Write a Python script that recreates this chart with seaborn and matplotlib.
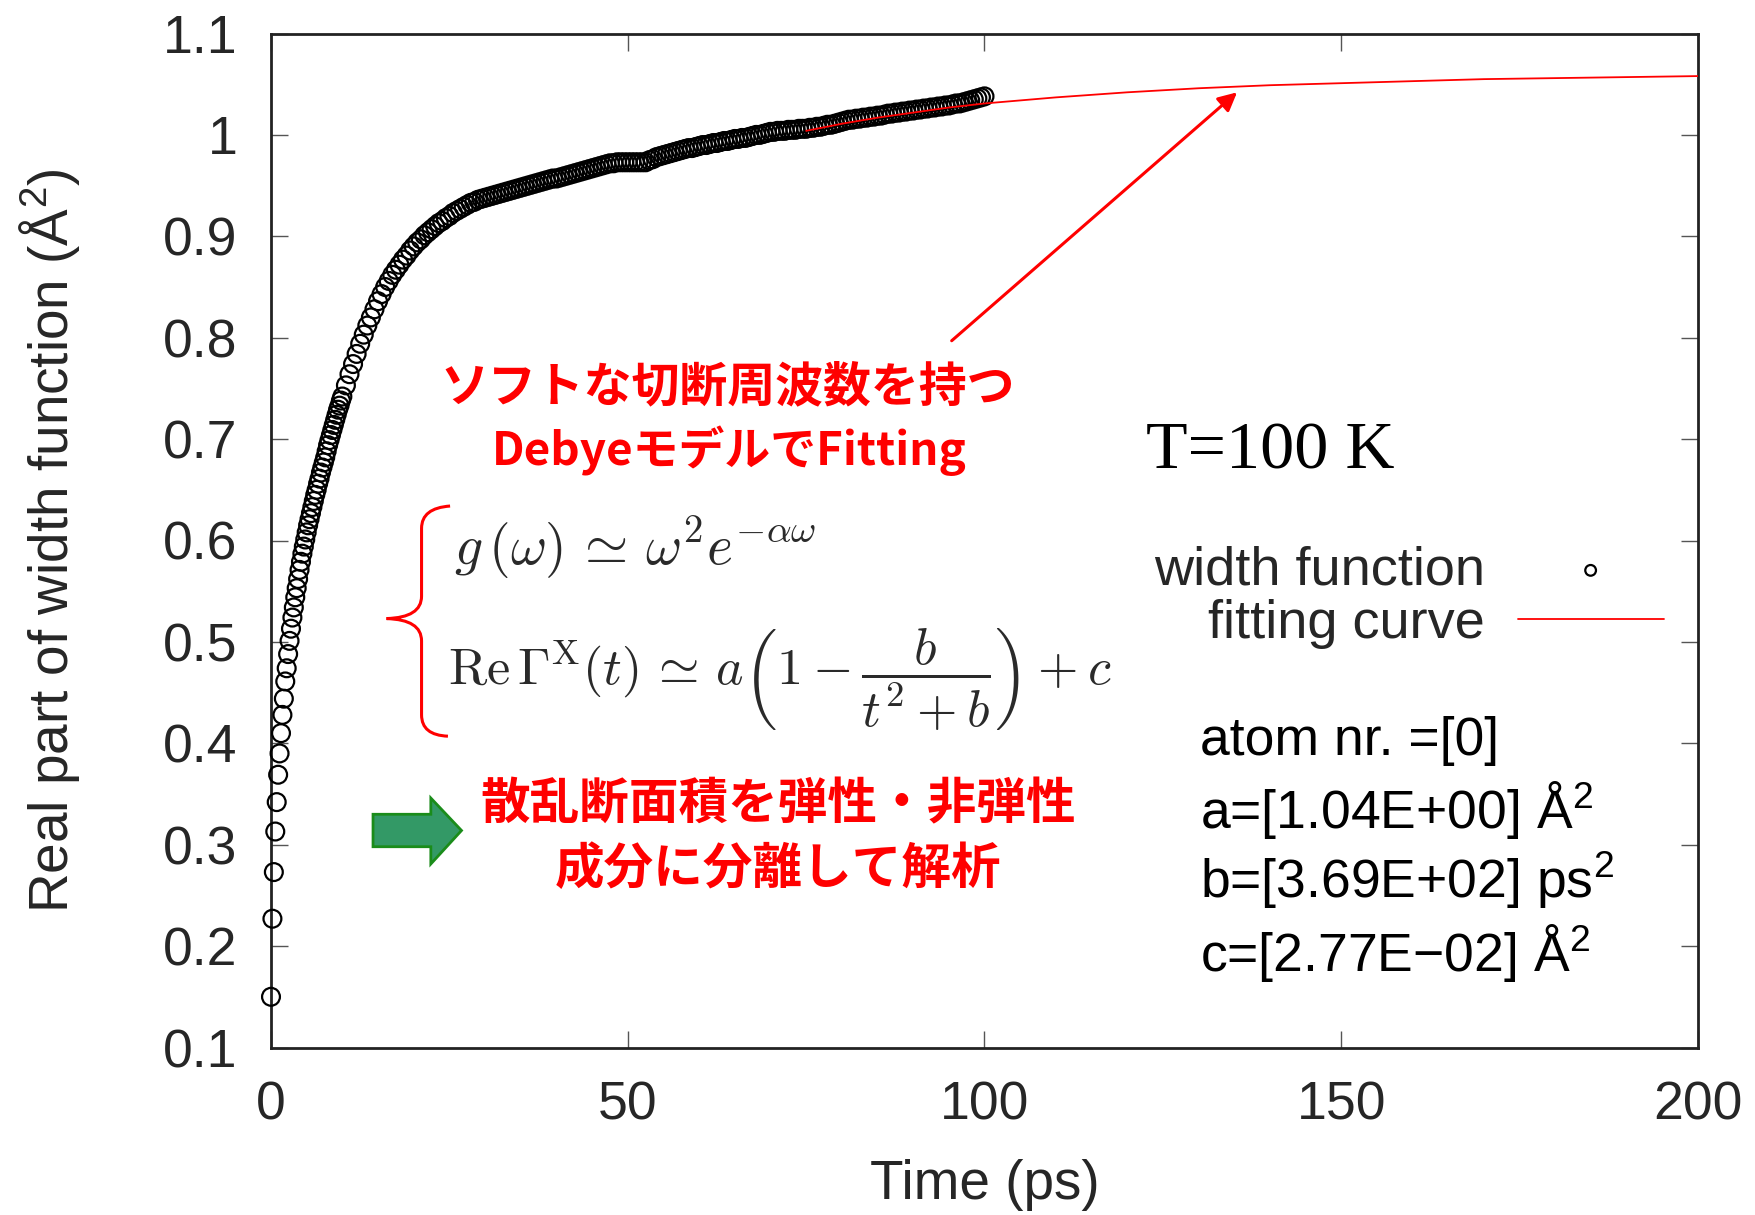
import numpy as np
import pandas as pd
import seaborn as sns
import matplotlib
matplotlib.use("Agg")
import matplotlib.pyplot as plt
from matplotlib.path import Path
from matplotlib.patches import PathPatch, Polygon

# ---------------- data ----------------
time_early = [0.0, 0.2, 0.4, 0.6, 0.8, 1.0, 1.2, 1.4, 1.6, 1.8,
              2.0, 2.2, 2.4, 2.6, 2.8, 3.0, 3.2, 3.4, 3.6, 3.8,
              4.0, 4.2, 4.4, 4.6, 4.8, 5.0, 5.2, 5.4, 5.6, 5.8,
              6.0, 6.2, 6.4, 6.6, 6.8, 7.0, 7.2, 7.4, 7.6, 7.8,
              8.0, 8.2, 8.4, 8.6, 8.8, 9.0, 9.2, 9.4, 9.6, 9.8, 10.0]
width_early = [0.150, 0.227, 0.273, 0.313, 0.342, 0.369, 0.390, 0.410, 0.428, 0.444,
               0.461, 0.474, 0.488, 0.501, 0.513, 0.524, 0.534, 0.544, 0.553, 0.562,
               0.571, 0.579, 0.587, 0.594, 0.601, 0.608, 0.615, 0.621, 0.627, 0.633,
               0.639, 0.645, 0.650, 0.656, 0.661, 0.667, 0.672, 0.677, 0.682, 0.688,
               0.694, 0.699, 0.704, 0.709, 0.714, 0.719, 0.724, 0.729, 0.733, 0.738, 0.742]

time_late = list(np.round(np.arange(10.5, 100.01, 0.5), 1))
width_late = [
    0.753, 0.764, 0.774, 0.784, 0.794, 0.803, 0.812, 0.820, 0.828, 0.836,   # 10.5-15
    0.843, 0.850, 0.856, 0.862, 0.867, 0.872, 0.877, 0.881, 0.886, 0.890,   # 15.5-20
    0.894, 0.897, 0.901, 0.904, 0.907, 0.910, 0.913, 0.915, 0.918, 0.920,   # 20.5-25
    0.923, 0.925, 0.927, 0.929, 0.931, 0.933, 0.934, 0.936, 0.937, 0.938,   # 25.5-30
    0.939, 0.940, 0.941, 0.942, 0.943, 0.944, 0.945, 0.946, 0.947, 0.948,   # 30.5-35
    0.949, 0.950, 0.951, 0.952, 0.953, 0.954, 0.955, 0.956, 0.957, 0.957,   # 35.5-40
    0.958, 0.959, 0.960, 0.961, 0.962, 0.963, 0.964, 0.965, 0.966, 0.967,   # 40.5-45
    0.968, 0.969, 0.970, 0.971, 0.972, 0.972, 0.973, 0.973, 0.973, 0.973,   # 45.5-50
    0.973, 0.973, 0.973, 0.973, 0.973, 0.975, 0.976, 0.978, 0.979, 0.980,   # 50.5-55
    0.981, 0.982, 0.983, 0.984, 0.985, 0.986, 0.987, 0.987, 0.988, 0.989,   # 55.5-60
    0.990, 0.990, 0.991, 0.992, 0.992, 0.993, 0.994, 0.994, 0.995, 0.996,   # 60.5-65
    0.996, 0.997, 0.997, 0.998, 0.999, 1.000, 1.000, 1.001, 1.002, 1.003,   # 65.5-70
    1.003, 1.004, 1.004, 1.004, 1.005, 1.005, 1.005, 1.006, 1.006, 1.006,   # 70.5-75
    1.007, 1.007, 1.008, 1.008, 1.009, 1.010, 1.010, 1.011, 1.012, 1.013,   # 75.5-80
    1.014, 1.015, 1.015, 1.016, 1.016, 1.017, 1.017, 1.018, 1.018, 1.019,   # 80.5-85
    1.019, 1.020, 1.021, 1.021, 1.022, 1.022, 1.023, 1.023, 1.024, 1.024,   # 85.5-90
    1.025, 1.025, 1.026, 1.026, 1.027, 1.027, 1.028, 1.028, 1.029, 1.029,   # 90.5-95
    1.030, 1.031, 1.031, 1.032, 1.033, 1.034, 1.035, 1.036, 1.037, 1.038,   # 95.5-100
]

fit_time = [75, 80, 85, 90, 95, 100, 110, 120, 130, 140, 150, 160, 170, 180, 190, 200]
fit_value = [1.004, 1.011, 1.017, 1.022, 1.027, 1.031, 1.037, 1.042, 1.046,
             1.049, 1.051, 1.053, 1.055, 1.056, 1.057, 1.058]

x_ticks = [0, 50, 100, 150, 200]
y_ticks = [0.1, 0.2, 0.3, 0.4, 0.5, 0.6, 0.7, 0.8, 0.9, 1.0, 1.1]
y_tick_labels = ["0.1", "0.2", "0.3", "0.4", "0.5", "0.6", "0.7", "0.8", "0.9", "1", "1.1"]

param_lines = ["atom nr. =[0]",
               "a=[1.04E+00] Å$^{2}$",
               "b=[3.69E+02] ps$^{2}$",
               "c=[2.77E\u221202] Å$^{2}$"]

# ---------------- style ----------------
sns.set_theme(style="white")
plt.rcParams["font.family"] = ["Liberation Sans", "Noto Sans CJK JP", "DejaVu Sans"]
plt.rcParams["mathtext.fontset"] = "custom"
plt.rcParams["mathtext.rm"] = "Liberation Sans"
plt.rcParams["mathtext.it"] = "Liberation Sans:italic"
plt.rcParams["mathtext.bf"] = "Liberation Sans:bold"

df_data = pd.DataFrame({"time": time_early + time_late,
                        "width": width_early + width_late})
df_fit = pd.DataFrame({"time": fit_time, "value": fit_value})

fig = plt.figure(figsize=(17.55, 12.15), dpi=100)
ax = fig.add_axes([271 / 1755, 1 - 1047.5 / 1215, 1427 / 1755, 1014 / 1215])

sns.scatterplot(data=df_data, x="time", y="width", ax=ax, marker="o", s=165,
                facecolors="none", edgecolor="black", linewidth=1.6,
                label="width function", zorder=3, clip_on=False)
sns.lineplot(data=df_fit, x="time", y="value", ax=ax, color="#ff0000",
             linewidth=1.3, label="fitting curve", zorder=4)

ax.set_xlim(0, 200)
ax.set_ylim(0.1, 1.1)
ax.set_xticks(x_ticks)
ax.set_xticklabels([str(v) for v in x_ticks])
ax.set_yticks(y_ticks)
ax.set_yticklabels(y_tick_labels)
ax.tick_params(axis="both", which="major", direction="in", length=12, width=1.0,
               color="#555555", labelsize=38.5, top=True, right=True,
               bottom=True, left=True)
ax.tick_params(axis="x", pad=24)
ax.tick_params(axis="y", pad=24)
for sp in ax.spines.values():
    sp.set_linewidth(2.0)
    sp.set_color("#222222")

ax.set_xlabel("Time (ps)", fontsize=39.5, labelpad=20)
ax.set_ylabel("Real part of width function (Å$^{2}$)", fontsize=39.5, labelpad=58)

# legend (gnuplot style: text then sample)
leg = ax.legend(loc="upper right", bbox_to_anchor=(0.976, 0.495), frameon=False,
                markerfirst=False, fontsize=39, handlelength=2.7, handletextpad=0.6,
                labelspacing=0.06, borderpad=0, borderaxespad=0, markerscale=0.6)

# parameters block
param_y = [0.388, 0.316, 0.247, 0.175]
for txt, yy in zip(param_lines, param_y):
    ax.text(130.2, yy, txt, fontsize=38.5, ha="left", va="baseline", color="black")

# temperature
ax.text(140.1, 0.687, "T=100 K", fontsize=49, family=["Liberation Serif"],
        ha="center", va="center", color="black")

# red Japanese annotation
jp = ["Noto Sans CJK JP", "DejaVu Sans"]
ax.text(64.0, 0.752, "ソフトな切断周波数を持つ", fontsize=34.5, family=jp,
        weight="bold", color="#ff0000", ha="center", va="center")
ax.text(64.2, 0.689, "DebyeモデルでFitting", fontsize=33, family=jp,
        weight="bold", color="#ff0000", ha="center", va="center")
ax.text(71.1, 0.339, "散乱断面積を弾性・非弾性", fontsize=35.7, family=jp,
        weight="bold", color="#ff0000", ha="center", va="center")
ax.text(71.1, 0.276, "成分に分離して解析", fontsize=35.7, family=jp,
        weight="bold", color="#ff0000", ha="center", va="center")

# red arrow pointing to the fitting curve
ax.annotate("", xy=(135.4, 1.042), xytext=(95.4, 0.797),
            arrowprops=dict(arrowstyle="-|>", color="#ff0000", lw=2.2,
                            mutation_scale=28, shrinkA=0, shrinkB=0))

# formulas
ax.text(25.6, 0.592, r"$g\,(\omega)\,\simeq\,\omega^{2}e^{-\alpha\omega}$",
        fontsize=40, math_fontfamily="cm", color="#2a2a2a", ha="left", va="center")
ax.text(24.8, 0.462,
        r"$\mathrm{Re}\,\Gamma^{\mathrm{X}}(t)\,\simeq\,a\left(1-\dfrac{b}{t^{2}+b}\right)+c$",
        fontsize=37.5, math_fontfamily="cm", color="#2a2a2a", ha="left", va="center")

# red curly brace
verts = [(25.1, 0.634), (21.1, 0.632), (21.1, 0.612),
         (21.1, 0.545), (21.1, 0.524), (16.2, 0.523),
         (21.1, 0.522), (21.1, 0.501),
         (21.1, 0.428), (21.1, 0.408), (24.8, 0.407)]
codes = [Path.MOVETO, Path.CURVE3, Path.CURVE3,
         Path.LINETO, Path.CURVE3, Path.CURVE3,
         Path.CURVE3, Path.CURVE3,
         Path.LINETO, Path.CURVE3, Path.CURVE3]
ax.add_patch(PathPatch(Path(verts, codes), fill=False, edgecolor="#ff0000",
                       lw=2.2, zorder=5))

# green block arrow
ax.add_patch(Polygon([(14.3, 0.298), (14.3, 0.330), (22.4, 0.330), (22.4, 0.346),
                      (26.7, 0.314), (22.4, 0.281), (22.4, 0.298)],
                     closed=True, facecolor="#339966", edgecolor="#1a8c1a",
                     lw=2.0, zorder=5))

fig.savefig("out.png", dpi=100)
